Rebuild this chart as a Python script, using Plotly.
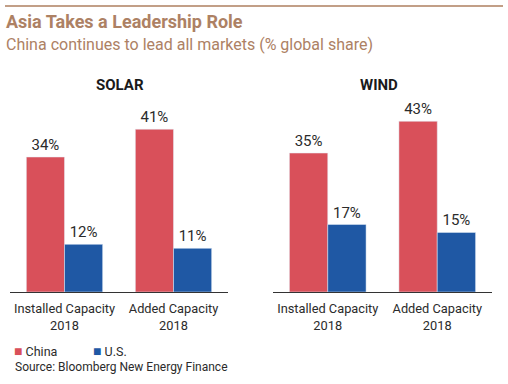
import plotly.graph_objects as go

W, H = 508, 384

categories = ["Installed Capacity<br>2018", "Added Capacity<br>2018"]
solar_china = [34, 41]
solar_us = [12, 11]
wind_china = [35, 43]
wind_us = [17, 15]
series_names = ["China", "U.S."]
panel_titles = ["SOLAR", "WIND"]

RED = "#d9505a"
BLUE = "#1f58a4"
BROWN = "#ad8164"
TXT = "#2b2b2b"
FONT = "Roboto"

def px_x(x):
    return x / W

def px_y(y):
    return 1 - y / H

fig = go.Figure()

panels = [(solar_china, solar_us, "x", "y"), (wind_china, wind_us, "x2", "y2")]
for i, (ch, us, xa, ya) in enumerate(panels):
    fig.add_trace(go.Bar(x=categories, y=ch, name=series_names[0], marker_color=RED,
                         xaxis=xa, yaxis=ya, showlegend=False,
                         texttemplate="%{y}%", textposition="outside", cliponaxis=False,
                         textfont=dict(family=FONT, size=15, color=TXT)))
    fig.add_trace(go.Bar(x=categories, y=us, name=series_names[1], marker_color=BLUE,
                         xaxis=xa, yaxis=ya, showlegend=False,
                         texttemplate="%{y}%", textposition="outside", cliponaxis=False,
                         textfont=dict(family=FONT, size=15, color=TXT)))

ydom = [px_y(292), px_y(93.5)]
axis_common = dict(showline=True, linecolor="#333333", linewidth=1, ticks="",
                   tickfont=dict(family=FONT, size=12.8, color=TXT), showgrid=False,
                   fixedrange=True, ticklabelstandoff=5)
fig.update_layout(
    width=W, height=H,
    margin=dict(l=0, r=0, t=0, b=0),
    paper_bgcolor="white", plot_bgcolor="white",
    barmode="group", bargap=0.30, bargroupgap=0,
    xaxis=dict(domain=[px_x(10), px_x(228)], anchor="y", **axis_common),
    xaxis2=dict(domain=[px_x(273), px_x(492)], anchor="y2", **axis_common),
    yaxis=dict(domain=ydom, range=[0, 50], visible=False, anchor="x"),
    yaxis2=dict(domain=ydom, range=[0, 50], visible=False, anchor="x2"),
    showlegend=False,
    font=dict(family=FONT),
)

fig.add_shape(type="line", xref="paper", yref="paper", x0=px_x(5), x1=px_x(503),
              y0=px_y(6), y1=px_y(6), line=dict(color="#c29f87", width=2))

fig.add_annotation(text="<b>Asia Takes a Leadership Role</b>", xref="paper", yref="paper",
                   x=px_x(4), y=px_y(22), xanchor="left", yanchor="middle", showarrow=False,
                   font=dict(family=FONT, size=18, color=BROWN))
fig.add_annotation(text="China continues to lead all markets (% global share)", xref="paper",
                   yref="paper", x=px_x(4), y=px_y(44), xanchor="left", yanchor="middle",
                   showarrow=False, font=dict(family=FONT, size=16, color=BROWN))

for t, cx in zip(panel_titles, [120, 379]):
    fig.add_annotation(text="<b>" + t + "</b>", xref="paper", yref="paper", x=px_x(cx),
                       y=px_y(85), xanchor="center", yanchor="middle", showarrow=False,
                       font=dict(family=FONT, size=15, color="#1a1a1a"))

# legend (China / U.S.)
for name, col, lx in zip(series_names, [RED, BLUE], [12, 91]):
    fig.add_annotation(text='<span style="color:%s;font-size:14px">■</span> %s' % (col, name),
                       xref="paper", yref="paper", x=px_x(lx), y=px_y(351),
                       xanchor="left", yanchor="middle", showarrow=False,
                       font=dict(family=FONT, size=12.5, color=TXT))

fig.add_annotation(text="Source: Bloomberg New Energy Finance", xref="paper", yref="paper",
                   x=px_x(13), y=px_y(367), xanchor="left", yanchor="middle", showarrow=False,
                   font=dict(family=FONT, size=12, color=TXT))

fig.write_html("out.html", config={"displayModeBar": False},
               post_script="document.body.style.margin='0px';document.body.style.overflow='hidden';")
